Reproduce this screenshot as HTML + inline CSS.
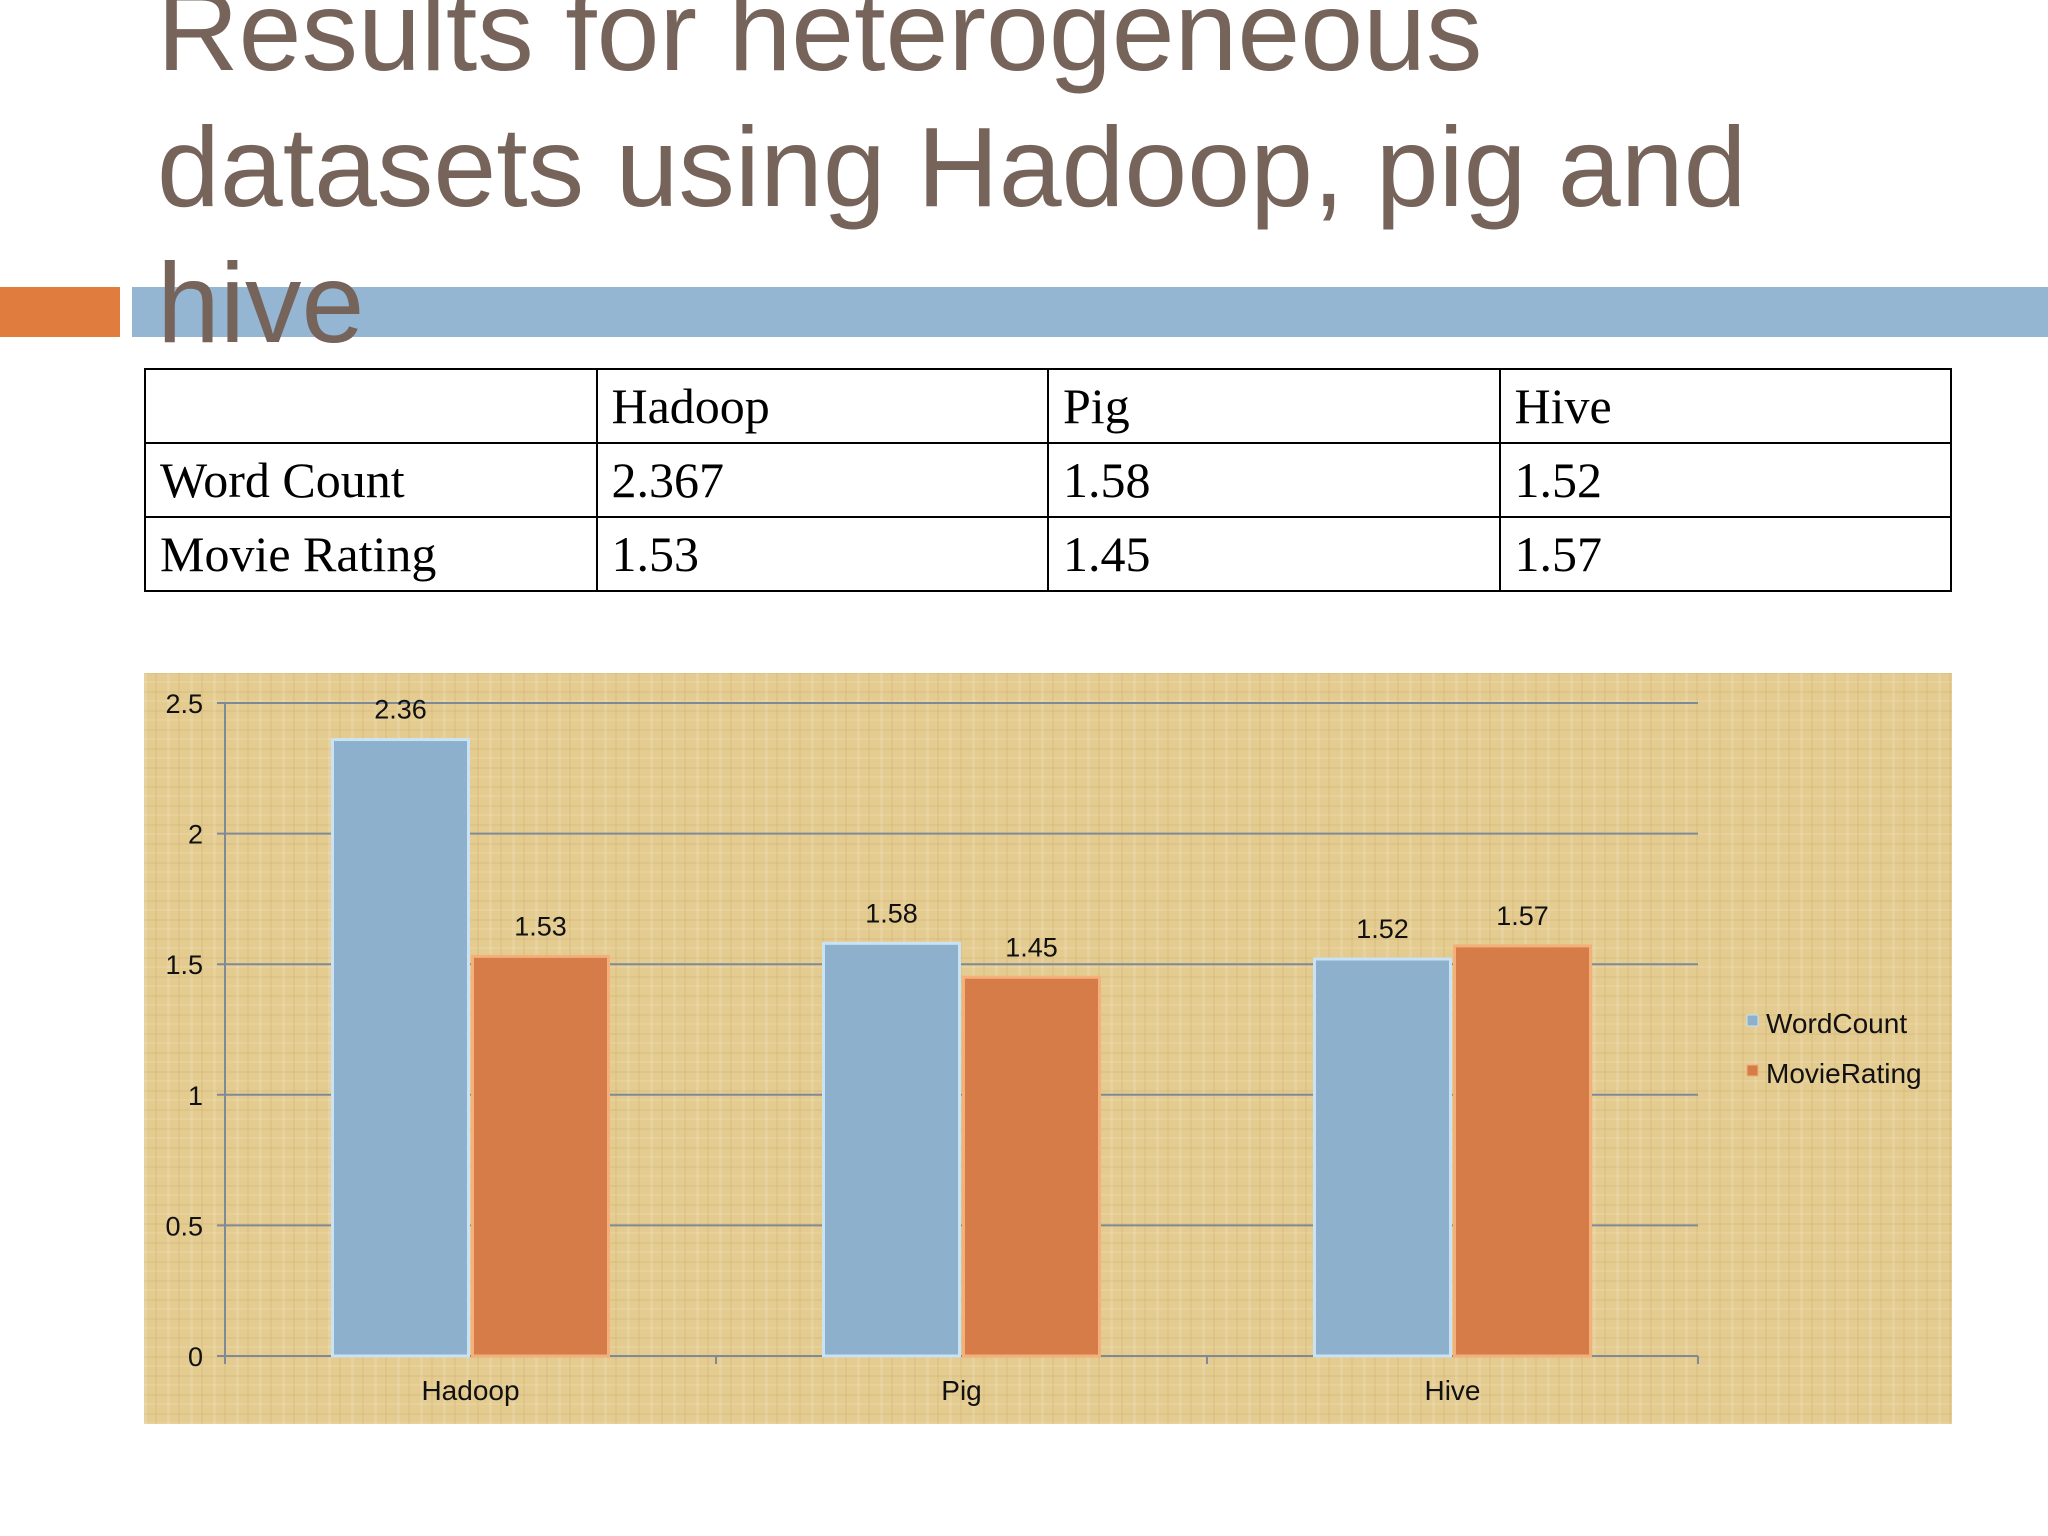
<!DOCTYPE html>
<html><head><meta charset="utf-8"><style>
html,body{margin:0;padding:0;background:#fff;}
#page{position:relative;width:2048px;height:1536px;overflow:hidden;background:#fff;font-family:"Liberation Sans",sans-serif;}
.title{position:absolute;left:157px;top:-37px;font-size:113px;line-height:136px;color:#76645b;margin:0;font-weight:normal;z-index:2;width:1880px;white-space:nowrap;}
table{position:absolute;left:144px;top:368px;width:1808px;border-collapse:collapse;font-family:"Liberation Serif",serif;font-size:50px;}
td{border:2.5px solid #000;height:72px;padding:0 0 0 14px;width:25%;vertical-align:middle;}
#panel{position:absolute;left:144px;top:673px;width:1808px;height:751px;
background:
repeating-linear-gradient(90deg,rgba(255,255,255,0.12) 0 3px,rgba(0,0,0,0) 3px 11px,rgba(150,110,40,0.08) 11px 13px,rgba(0,0,0,0) 13px 23px),
repeating-linear-gradient(0deg,rgba(255,255,255,0.10) 0 2px,rgba(0,0,0,0) 2px 9px,rgba(150,110,40,0.07) 9px 11px,rgba(0,0,0,0) 11px 19px),
#e4cb8f;}
</style></head><body>
<div id="page">
<h1 class="title">Results for heterogeneous<br>datasets using Hadoop, pig and<br>hive</h1>
<div style="position:absolute;left:0;top:287px;width:120px;height:50px;background:#e07c3e;"></div>
<div style="position:absolute;left:132px;top:287px;width:1916px;height:50px;background:#94b6d2;"></div>
<table>
<tr><td></td><td>Hadoop</td><td>Pig</td><td>Hive</td></tr>
<tr><td>Word Count</td><td>2.367</td><td>1.58</td><td>1.52</td></tr>
<tr><td>Movie Rating</td><td>1.53</td><td>1.45</td><td>1.57</td></tr>
</table>
<div id="panel"></div>
<svg id="chart" width="2048" height="1536" style="position:absolute;left:0;top:0;"></svg>
</div>
<script>
const categories = ["Hadoop","Pig","Hive"];
const wordCount = [2.36,1.58,1.52];
const movieRating = [1.53,1.45,1.57];
const seriesNames = ["WordCount","MovieRating"];
const yTicks = [0,0.5,1,1.5,2,2.5];

const NS="http://www.w3.org/2000/svg";
const svg=document.getElementById('chart');
const x0=225,x1=1698,yBase=1356,yTop=703,yMax=2.5;
const catW=(x1-x0)/categories.length;
function yScale(v){return yBase-(v/yMax)*(yBase-yTop);}
function catX(i){return x0+catW*i+catW/2;}
function mk(tag,attrs){const e=document.createElementNS(NS,tag);for(const k in attrs)e.setAttribute(k,attrs[k]);svg.appendChild(e);return e;}
yTicks.forEach(t=>{
  const y=yScale(t);
  const g=mk('line',{x1:x0-8,x2:x1,y1:y,y2:y,stroke:'#7f8a96','stroke-width':2});
  
  
  const l=mk('text',{x:x0-22,y:y+10,'text-anchor':'end','font-size':27,fill:'#111','font-family':'Liberation Sans, sans-serif'});
  l.textContent=String(t);
  
  
});
const ax=mk('line',{x1:x0,x2:x0,y1:yTop,y2:yBase+8,stroke:'#7f8a96','stroke-width':2});


for(let i=0;i<=categories.length;i++){
  const xx=x0+catW*i;
  const tk=mk('line',{x1:xx,x2:xx,y1:yBase,y2:yBase+8,stroke:'#7f8a96','stroke-width':2});
  
  
}
const bw=136,gap=4;
const series=[[wordCount,'#8db0cc','#c9e3f5'],[movieRating,'#d67c48','#f3b07a']];
categories.forEach((c,i)=>{
  series.forEach((s,k)=>{
    const v=s[0][i];
    const bx=catX(i)-bw-gap/2+k*(bw+gap);
    const by=yScale(v);
    const r=mk('rect',{x:bx,y:by,width:bw,height:yBase-by,fill:s[1],stroke:s[2],'stroke-width':3});
    
    
    const t=mk('text',{x:bx+bw/2,y:by-21,'text-anchor':'middle','font-size':27,fill:'#111','font-family':'Liberation Sans, sans-serif'});
    t.textContent=v.toFixed(2);
    
    
  });
  const cl=mk('text',{x:catX(i),y:1400,'text-anchor':'middle','font-size':28,fill:'#111','font-family':'Liberation Sans, sans-serif'});
  cl.textContent=c;
  
  
});
seriesNames.forEach((n,k)=>{
  const y=1023+k*50;
  const sq=mk('rect',{x:1747,y:y-8,width:11,height:11,fill:series[k][1],stroke:series[k][2],'stroke-width':1});
  
  
  const t=mk('text',{x:1766,y:y+10,'font-size':28,fill:'#111','font-family':'Liberation Sans, sans-serif'});
  t.textContent=n;
  
  
});
</script>
</body></html>
